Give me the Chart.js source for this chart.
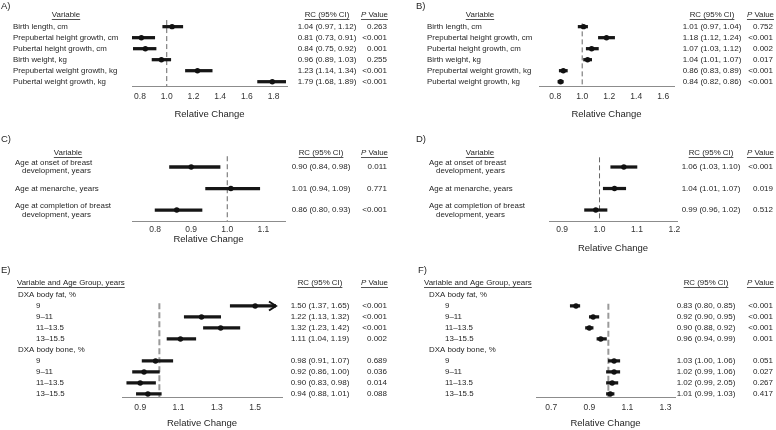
<!DOCTYPE html>
<html>
<head>
<meta charset="utf-8">
<script src="https://cdn.jsdelivr.net/npm/chart.js@4.4.1/dist/chart.umd.min.js"></script>
<style>
  html, body { margin: 0; padding: 0; background: #fff; }
  #page { position: relative; width: 776px; height: 430px; overflow: hidden; }
  #page canvas { position: absolute; }
</style>
</head>
<body>
<div id="page"></div>
<script>
// A) and B) growth variables
const growthLabels = ['Birth length, cm', 'Prepubertal height growth, cm', 'Pubertal height growth, cm',
    'Birth weight, kg', 'Prepubertal weight growth, kg', 'Pubertal weight growth, kg'];
const aRC = [1.04, 0.81, 0.84, 0.96, 1.23, 1.79];
const aLow = [0.97, 0.73, 0.75, 0.89, 1.14, 1.68];
const aHigh = [1.12, 0.91, 0.92, 1.03, 1.34, 1.89];
const aText = ['1.04 (0.97, 1.12)', '0.81 (0.73, 0.91)', '0.84 (0.75, 0.92)', '0.96 (0.89, 1.03)', '1.23 (1.14, 1.34)', '1.79 (1.68, 1.89)'];
const aP = ['0.263', '<0.001', '0.001', '0.255', '<0.001', '<0.001'];
const aTicks = [0.8, 1.0, 1.2, 1.4, 1.6, 1.8];

const bRC = [1.01, 1.18, 1.07, 1.04, 0.86, 0.84];
const bLow = [0.97, 1.12, 1.03, 1.01, 0.83, 0.82];
const bHigh = [1.04, 1.24, 1.12, 1.07, 0.89, 0.86];
const bText = ['1.01 (0.97, 1.04)', '1.18 (1.12, 1.24)', '1.07 (1.03, 1.12)', '1.04 (1.01, 1.07)', '0.86 (0.83, 0.89)', '0.84 (0.82, 0.86)'];
const bP = ['0.752', '<0.001', '0.002', '0.017', '<0.001', '<0.001'];
const bTicks = [0.8, 1.0, 1.2, 1.4, 1.6];

// C) and D) puberty timing
const pubertyLabels = [['Age at onset of breast', 'development, years'], ['Age at menarche, years'],
    ['Age at completion of breast', 'development, years']];
const cRC = [0.90, 1.01, 0.86];
const cLow = [0.84, 0.94, 0.80];
const cHigh = [0.98, 1.09, 0.93];
const cText = ['0.90 (0.84, 0.98)', '1.01 (0.94, 1.09)', '0.86 (0.80, 0.93)'];
const cP = ['0.011', '0.771', '<0.001'];
const cTicks = [0.8, 0.9, 1.0, 1.1];

const dRC = [1.065, 1.04, 0.99];
const dLow = [1.03, 1.01, 0.96];
const dHigh = [1.10, 1.07, 1.02];
const dText = ['1.06 (1.03, 1.10)', '1.04 (1.01, 1.07)', '0.99 (0.96, 1.02)'];
const dP = ['<0.001', '0.019', '0.512'];
const dTicks = [0.9, 1.0, 1.1, 1.2];

// E) and F) DXA by age group
const dxaLabels = ['DXA body fat, %', '9', '9\u201311', '11\u201313.5', '13\u201315.5',
    'DXA body bone, %', '9', '9\u201311', '11\u201313.5', '13\u201315.5'];
const eRC = [null, 1.50, 1.22, 1.32, 1.11, null, 0.98, 0.92, 0.90, 0.94];
const eLow = [null, 1.37, 1.13, 1.23, 1.04, null, 0.91, 0.86, 0.83, 0.88];
const eHigh = [null, 1.65, 1.32, 1.42, 1.19, null, 1.07, 1.00, 0.98, 1.01];
const eText = ['', '1.50 (1.37, 1.65)', '1.22 (1.13, 1.32)', '1.32 (1.23, 1.42)', '1.11 (1.04, 1.19)', '',
    '0.98 (0.91, 1.07)', '0.92 (0.86, 1.00)', '0.90 (0.83, 0.98)', '0.94 (0.88, 1.01)'];
const eP = ['', '<0.001', '<0.001', '<0.001', '0.002', '', '0.689', '0.036', '0.014', '0.088'];
const eTicks = [0.9, 1.1, 1.3, 1.5];

const fRC = [null, 0.83, 0.92, 0.90, 0.96, null, 1.03, 1.03, 1.02, 1.01];
const fLow = [null, 0.80, 0.90, 0.88, 0.94, null, 1.00, 0.99, 0.99, 0.99];
const fHigh = [null, 0.85, 0.95, 0.92, 0.99, null, 1.06, 1.06, 1.05, 1.03];
const fText = ['', '0.83 (0.80, 0.85)', '0.92 (0.90, 0.95)', '0.90 (0.88, 0.92)', '0.96 (0.94, 0.99)', '',
    '1.03 (1.00, 1.06)', '1.02 (0.99, 1.06)', '1.02 (0.99, 2.05)', '1.01 (0.99, 1.03)'];
const fP = ['', '<0.001', '<0.001', '<0.001', '0.001', '', '0.051', '0.027', '0.267', '0.417'];
const fTicks = [0.7, 0.9, 1.1, 1.3];

const FAMILY = '"Liberation Sans", Arial, sans-serif';
const ROW_FONT = '7.9px ' + FAMILY;
const RC_FONT = '8px ' + FAMILY;
const LETTER_FONT = '9.5px ' + FAMILY;
const INK = '#262626';

Chart.defaults.font.family = FAMILY;

const thinRef = {color: '#666', width: 1, dash: [5, 3]};
const thickRef = {color: '#9a9a9a', width: 2, dash: [6, 3]};

const panels = [
    {letter: 'A)', left: 0, top: 0, w: 388, h: 130, area: {l: 132, r: 287, t: 15, b: 86},
        xMin: 0.74, xMax: 1.9, yMin: -1.06, yMax: 5.39, ticks: aTicks, tickPad: 6, titlePad: 10,
        labels: growthLabels, rc: aRC, low: aLow, high: aHigh, text: aText, p: aP,
        letterX: 1, letterY: 6, header: 'Variable', headerX: 66, headerAlign: 'center', headerDy: 0,
        labelX: 13, subX: 13, rcX: 327, pX: 387, refFrom: -0.6, ref: thinRef},
    {letter: 'B)', left: 388, top: 0, w: 388, h: 130, area: {l: 151, r: 286, t: 15, b: 86},
        xMin: 0.68, xMax: 1.68, yMin: -1.06, yMax: 5.39, ticks: bTicks, tickPad: 6, titlePad: 10,
        labels: growthLabels, rc: bRC, low: bLow, high: bHigh, text: bText, p: bP,
        letterX: 28, letterY: 6, header: 'Variable', headerX: 92, headerAlign: 'center', headerDy: 0,
        labelX: 39, subX: 39, rcX: 324, pX: 385, refFrom: -0.3, ref: thinRef},
    {letter: 'C)', left: 0, top: 130, w: 388, h: 135, area: {l: 132, r: 285, t: 25, b: 91},
        xMin: 0.736, xMax: 1.16, yMin: -0.558, yMax: 2.51, ticks: cTicks, tickPad: 4, titlePad: 20,
        labels: pubertyLabels, rc: cRC, low: cLow, high: cHigh, text: cText, p: cP,
        letterX: 1, letterY: 9, header: 'Variable', headerX: 68, headerAlign: 'center', headerDy: -2,
        labelX: 15, subX: 15, rcX: 321, pX: 387, refFrom: -0.5, ref: thinRef},
    {letter: 'D)', left: 388, top: 130, w: 388, h: 135, area: {l: 161, r: 289, t: 25, b: 91},
        xMin: 0.865, xMax: 1.207, yMin: -0.558, yMax: 2.51, ticks: dTicks, tickPad: 4, titlePad: 11,
        labels: pubertyLabels, rc: dRC, low: dLow, high: dHigh, text: dText, p: dP,
        letterX: 28, letterY: 9, header: 'Variable', headerX: 92, headerAlign: 'center', headerDy: -2,
        labelX: 41, subX: 41, rcX: 323, pX: 385, refFrom: -0.45, ref: thinRef},
    {letter: 'E)', left: 0, top: 262, w: 388, h: 168, area: {l: 122, r: 282, t: 21, b: 135.5},
        xMin: 0.805, xMax: 1.64, yMin: -1.09, yMax: 9.32, ticks: eTicks, tickPad: 5, titlePad: 1,
        labels: dxaLabels, rc: eRC, low: eLow, high: eHigh, text: eText, p: eP,
        letterX: 1, letterY: 8, header: 'Variable and Age Group, years', headerX: 17, headerAlign: 'left', headerDy: 0,
        labelX: 18, subX: 36, rcX: 320, pX: 387, refFrom: 0.75, ref: thickRef, clipRight: -6},
    {letter: 'F)', left: 388, top: 262, w: 388, h: 168, area: {l: 148, r: 287, t: 21, b: 135.5},
        xMin: 0.62, xMax: 1.35, yMin: -1.09, yMax: 9.32, ticks: fTicks, tickPad: 5, titlePad: 1,
        labels: dxaLabels, rc: fRC, low: fLow, high: fHigh, text: fText, p: fP,
        letterX: 30, letterY: 8, header: 'Variable and Age Group, years', headerX: 36, headerAlign: 'left', headerDy: 0,
        labelX: 41, subX: 57, rcX: 318, pX: 385, refFrom: 0.8, ref: thickRef}
];

const underlined = (ctx, s, x, y, align) => {
    ctx.textAlign = align;
    ctx.fillText(s, x, y);
    const w = ctx.measureText(s).width;
    const x0 = align === 'center' ? x - w / 2 : align === 'right' ? x - w : x;
    ctx.fillRect(x0, y + 4.2, w, 0.8);
}

const drawTable = (chart, p) => {
    const ctx = chart.ctx;
    const ys = chart.scales.y;
    const top = chart.chartArea.top + p.headerDy;
    ctx.save();
    ctx.fillStyle = INK;
    ctx.textBaseline = 'middle';

    ctx.font = LETTER_FONT;
    ctx.textAlign = 'left';
    ctx.fillText(p.letter, p.letterX, p.letterY);

    ctx.font = ROW_FONT;
    underlined(ctx, p.header, p.headerX, top, p.headerAlign);
    underlined(ctx, 'RC (95% CI)', p.rcX, top, 'center');

    // "P Value" with italic P, right aligned
    const vw = ctx.measureText(' Value').width;
    ctx.font = 'italic ' + ROW_FONT;
    const pw = ctx.measureText('P').width;
    const px0 = p.pX + 1 - vw - pw;
    ctx.textAlign = 'left';
    ctx.fillText('P', px0, top);
    ctx.font = ROW_FONT;
    ctx.fillText(' Value', px0 + pw, top);
    ctx.fillRect(px0, top + 4.2, vw + pw, 0.8);

    p.labels.forEach((lab, i) => {
        const y = ys.getPixelForValue(i);
        const x = p.rc[i] == null ? p.labelX : p.subX;
        ctx.font = ROW_FONT;
        ctx.textAlign = 'left';
        if (Array.isArray(lab)) {
            if (lab.length === 1) ctx.fillText(lab[0], x, y);
            else {
                ctx.fillText(lab[0], x, y - 4.3);
                ctx.fillText(lab[1], x + 7, y + 4.3);
            }
        } else {
            ctx.fillText(lab, x, y);
        }
        ctx.font = RC_FONT;
        ctx.textAlign = 'center';
        ctx.fillText(p.text[i], p.rcX, y);
        ctx.textAlign = 'right';
        ctx.fillText(p.p[i], p.pX, y);
    });
    ctx.restore();
}

const drawArrows = (chart, p) => {
    const ctx = chart.ctx;
    const xs = chart.scales.x;
    const ys = chart.scales.y;
    ctx.save();
    ctx.strokeStyle = '#111';
    ctx.lineWidth = 2;
    p.high.forEach((h, i) => {
        if (h == null || h <= xs.max) return;
        const tip = chart.chartArea.right + (p.clipRight || 0);
        const y = ys.getPixelForValue(i);
        ctx.beginPath();
        ctx.moveTo(tip - 7, y - 4.5);
        ctx.lineTo(tip, y);
        ctx.lineTo(tip - 7, y + 4.5);
        ctx.stroke();
    });
    ctx.restore();
}

const makePanel = (p) => {
    const canvas = document.createElement('canvas');
    canvas.width = p.w;
    canvas.height = p.h;
    canvas.style.left = p.left + 'px';
    canvas.style.top = p.top + 'px';
    document.getElementById('page').appendChild(canvas);

    const ciData = [];
    const pointData = [];
    p.rc.forEach((v, i) => {
        if (v == null) return;
        ciData.push({y: i, x: [p.low[i], p.high[i]]});
        pointData.push({x: v, y: i});
    });

    return new Chart(canvas, {
        type: 'bar',
        data: {
            datasets: [
                {
                    type: 'line',
                    data: [{x: 1, y: p.refFrom}, {x: 1, y: p.yMax}],
                    borderColor: p.ref.color,
                    borderWidth: p.ref.width,
                    borderDash: p.ref.dash,
                    pointRadius: 0,
                    order: 3
                },
                {
                    type: 'bar',
                    indexAxis: 'y',
                    data: ciData,
                    backgroundColor: '#161616',
                    borderWidth: 0,
                    barThickness: 2.6,
                    grouped: false,
                    clip: {left: 0, top: 10, right: p.clipRight || 0, bottom: 10},
                    order: 2
                },
                {
                    type: 'scatter',
                    data: pointData,
                    pointRadius: 2.7,
                    pointBackgroundColor: '#111',
                    pointBorderWidth: 0,
                    order: 1
                }
            ]
        },
        options: {
            responsive: false,
            animation: false,
            devicePixelRatio: 1,
            indexAxis: 'y',
            events: [],
            layout: {padding: {left: p.area.l, right: p.w - p.area.r, top: p.area.t, bottom: 0}},
            plugins: {legend: {display: false}, tooltip: {enabled: false}},
            scales: {
                x: {
                    type: 'linear',
                    min: p.xMin,
                    max: p.xMax,
                    offset: false,
                    grid: {display: false, drawTicks: false},
                    border: {display: true, color: '#8c8c8c', width: 1},
                    afterBuildTicks: (axis) => { axis.ticks = p.ticks.map(v => ({value: v})); },
                    afterFit: (axis) => { axis.height = p.h - p.area.b; },
                    ticks: {
                        padding: p.tickPad,
                        color: '#333',
                        font: {size: 8.5},
                        maxRotation: 0,
                        autoSkip: false,
                        callback: (v) => Number(v).toFixed(1)
                    },
                    title: {
                        display: true,
                        text: 'Relative Change',
                        color: INK,
                        font: {size: 9.5},
                        padding: {top: 0, bottom: p.titlePad}
                    }
                },
                y: {type: 'linear', reverse: true, offset: false, min: p.yMin, max: p.yMax, display: false}
            }
        },
        plugins: [{
            id: 'forestText',
            afterDatasetsDraw: (chart) => drawArrows(chart, p),
            afterDraw: (chart) => drawTable(chart, p)
        }]
    });
}

panels.forEach(makePanel);
</script>
</body>
</html>
